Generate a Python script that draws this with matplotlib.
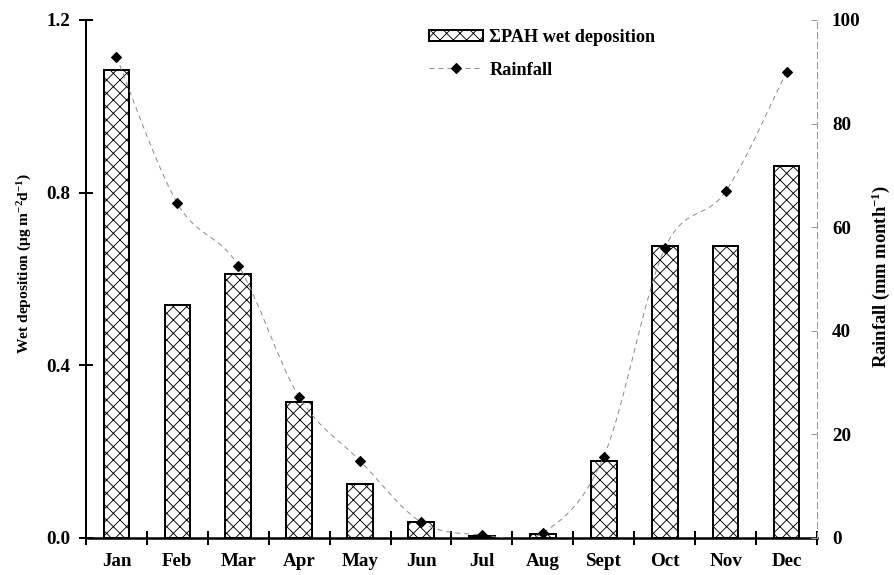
import matplotlib
matplotlib.use("Agg")
import matplotlib.pyplot as plt
from matplotlib.path import Path
from matplotlib.patches import PathPatch, Patch
from matplotlib.lines import Line2D
import numpy as np

months = ["Jan", "Feb", "Mar", "Apr", "May", "Jun", "Jul", "Aug", "Sept", "Oct", "Nov", "Dec"]
wet_deposition = [1.084, 0.540, 0.611, 0.316, 0.125, 0.038, 0.005, 0.010, 0.179, 0.676, 0.676, 0.862]
rainfall = [92.9, 64.6, 52.6, 27.2, 14.9, 3.1, 0.6, 1.0, 15.7, 55.9, 66.9, 90.0]
left_ticks = [0.0, 0.4, 0.8, 1.2]
right_ticks = [0, 20, 40, 60, 80, 100]

DPI = 80
PX = 72.0 / DPI  # points per pixel

plt.rcParams["font.family"] = ["Liberation Serif", "DejaVu Serif"]
plt.rcParams["font.weight"] = "bold"
plt.rcParams["mathtext.fontset"] = "custom"
plt.rcParams["mathtext.rm"] = "Liberation Serif:bold"
plt.rcParams["mathtext.it"] = "Liberation Serif:bold"
plt.rcParams["mathtext.bf"] = "Liberation Serif:bold"
plt.rcParams["hatch.linewidth"] = 0.9 * PX
plt.rcParams["hatch.color"] = "black"

W, H = 894, 575
fig = plt.figure(figsize=(W / DPI, H / DPI), dpi=DPI)
L, R, B, T = 86, 817, 538, 20
ax = fig.add_axes([L / W, 1 - B / H, (R - L) / W, (B - T) / H])
ax2 = ax.twinx()

x = np.arange(len(months))
ax.bar(x, wet_deposition, width=0.42, color="white", edgecolor="black",
       linewidth=2 * PX, hatch="xx", zorder=2)

ax.set_xlim(-0.5, len(months) - 0.5)
ax.set_ylim(0, 1.2)
ax2.set_ylim(0, 100)

# smoothed rainfall line (Catmull-Rom Bezier through the data points)
pts = np.column_stack([x, rainfall]).astype(float)
verts = [tuple(pts[0])]
codes = [Path.MOVETO]
n = len(pts)
for i in range(n - 1):
    p0 = pts[i - 1] if i > 0 else pts[i]
    p1 = pts[i]
    p2 = pts[i + 1]
    p3 = pts[i + 2] if i + 2 < n else pts[i + 1]
    c1 = p1 + (p2 - p0) / 6.0
    c2 = p2 - (p3 - p1) / 6.0
    verts += [tuple(c1), tuple(c2), tuple(p2)]
    codes += [Path.CURVE4] * 3
path = Path(verts, codes)
ax2.add_patch(PathPatch(path, facecolor="none", edgecolor="#8c8c8c",
                        linewidth=1.0 * PX, linestyle=(0, (5, 4)), zorder=3))
ax2.plot(x, rainfall, linestyle="none", marker="D", markersize=7 * PX,
         color="black", zorder=4)

# spines
for s in ["top", "right"]:
    ax.spines[s].set_visible(False)
ax.spines["left"].set_linewidth(2 * PX)
ax.spines["bottom"].set_linewidth(2.5 * PX)
for s in ["top", "left", "bottom"]:
    ax2.spines[s].set_visible(False)
ax2.spines["right"].set_color("#9a9a9a")
ax2.spines["right"].set_linewidth(1 * PX)
ax2.spines["right"].set_linestyle((0, (6, 4)))

TICKFS = 19 * PX

# x ticks: boundaries as major ticks, labels at centers
ax.set_xticks(np.arange(-0.5, len(months), 1.0))
ax.set_xticklabels([])
ax.set_xticks(x, minor=True)
ax.set_xticklabels(months, minor=True)
ax.tick_params(axis="x", which="major", direction="inout", length=13 * PX,
               width=2 * PX, color="black")
ax.tick_params(axis="x", which="minor", length=0, pad=15 * PX,
               labelsize=TICKFS)

ax.set_yticks(left_ticks)
ax.set_yticklabels(["%.1f" % v for v in left_ticks])
ax.tick_params(axis="y", direction="inout", length=13 * PX, width=2 * PX,
               pad=9 * PX, labelsize=TICKFS)

ax2.set_yticks(right_ticks)
ax2.set_yticklabels([str(v) for v in right_ticks])
ax2.tick_params(axis="y", direction="in", length=6 * PX, width=1 * PX,
                color="#9a9a9a", pad=15 * PX, labelsize=TICKFS)

for lab in ax.get_xticklabels(minor=True) + ax.get_yticklabels() + ax2.get_yticklabels():
    lab.set_fontweight("bold")

fig.text(25 / W, 1 - 263 / H, "Wet deposition (\u03bcg m$^{-2}$d$^{-1}$)",
         rotation=90, ha="center", va="center", fontsize=15.5 * PX, fontweight="bold")
fig.text(881 / W, 1 - 276 / H, "Rainfall (mm month$^{-1}$)",
         rotation=90, ha="center", va="center", fontsize=18.5 * PX, fontweight="bold")

handles = [
    Patch(facecolor="white", edgecolor="black", linewidth=2 * PX, hatch="xx"),
    Line2D([], [], color="#8c8c8c", linewidth=1 * PX, linestyle=(0, (5, 4)),
           marker="D", markersize=7 * PX, markerfacecolor="black",
           markeredgecolor="black"),
]
leg = ax.legend(handles, ["\u03a3PAH wet deposition", "Rainfall"],
                loc="upper left", bbox_to_anchor=((429 - L) / (R - L), 1 - (29 - T) / (B - T)),
                frameon=False, prop={"weight": "bold", "size": 18.3 * PX},
                handlelength=2.95, handleheight=0.6, handletextpad=0.35,
                labelspacing=0.85, borderaxespad=0, borderpad=0)

fig.savefig("out.png", dpi=DPI)
